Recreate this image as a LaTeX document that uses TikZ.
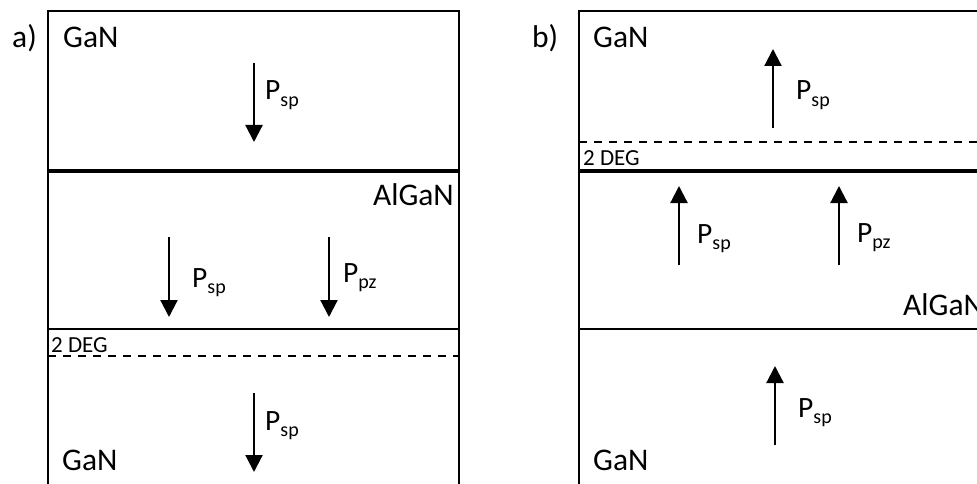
\documentclass[tikz,border=0pt]{standalone}
\usepackage{fontspec}
\setmainfont{Carlito}
\usetikzlibrary{arrows.meta}
\newcommand{\Pl}[1]{P\raisebox{-6pt}{\fontsize{20}{22}\selectfont #1}}
\begin{document}
\begin{tikzpicture}[x=1pt,y=-1pt,
  layer/.style={line width=2.2pt},
  iface/.style={line width=3.2pt},
  deg/.style={line width=2.2pt,dash pattern=on 8pt off 7pt},
  parrow/.style={line width=2.2pt,-{Triangle[length=17pt,width=17pt]}},
  big/.style={inner sep=0pt,font=\fontsize{31.5}{36}\selectfont},
  lbl/.style={inner sep=0pt,anchor=base west,font=\fontsize{29.5}{34}\selectfont},
  small/.style={inner sep=0pt,anchor=base west,font=\fontsize{23}{26}\selectfont}]
\useasboundingbox (0,0) rectangle (977,484);
\clip (0,0) rectangle (977,484);
% ---------- panel a
\draw[layer] (48,500) -- (48,11) -- (459,11) -- (459,500);
\draw[iface] (48,171) -- (459,171);
\draw[layer] (48,329) -- (459,329);
\draw[deg] (48,356) -- (459,356);
\node[big,anchor=base west] (la) at (12,48) {a)};
\node[big,anchor=base west] (ga1) at (63,48) {GaN};
\node[big,anchor=base east] (aa) at (454,205) {AlGaN};
\node[big,anchor=base west] (ga2) at (62,470) {GaN};
\node[small] (da) at (51,352) {2 DEG};
\coordinate (a1s) at (254,63); \coordinate (a1e) at (254,142);
\coordinate (a2s) at (169,237); \coordinate (a2e) at (169,317);
\coordinate (a3s) at (329,237); \coordinate (a3e) at (329,317);
\coordinate (a4s) at (254,393); \coordinate (a4e) at (254,472);
\draw[parrow] (a1s) -- (a1e);
\draw[parrow] (a2s) -- (a2e);
\draw[parrow] (a3s) -- (a3e);
\draw[parrow] (a4s) -- (a4e);
\node[lbl] (pa1) at (265,100) {\Pl{sp}};
\node[lbl] (pa2) at (192,287) {\Pl{sp}};
\node[lbl] (pa3) at (343,282) {\Pl{pz}};
\node[lbl] (pa4) at (265,430) {\Pl{sp}};
% ---------- panel b
\draw[layer] (579,500) -- (579,11) -- (1000,11);
\draw[deg] (579,142) -- (1000,142);
\draw[iface] (579,171) -- (1000,171);
\draw[layer] (579,329) -- (1000,329);
\node[big,anchor=base west] (lb) at (532,48) {b)};
\node[big,anchor=base west] (gb1) at (593,48) {GaN};
\node[big,anchor=base west] (ab) at (903,315) {AlGaN};
\node[big,anchor=base west] (gb2) at (593,470) {GaN};
\node[small] (db) at (583,165) {2 DEG};
\coordinate (b1s) at (773,128); \coordinate (b1e) at (773,49);
\coordinate (b2s) at (679,265); \coordinate (b2e) at (679,186);
\coordinate (b3s) at (839,265); \coordinate (b3e) at (839,186);
\coordinate (b4s) at (775,445); \coordinate (b4e) at (775,366);
\draw[parrow] (b1s) -- (b1e);
\draw[parrow] (b2s) -- (b2e);
\draw[parrow] (b3s) -- (b3e);
\draw[parrow] (b4s) -- (b4e);
\node[lbl] (pb1) at (796,100) {\Pl{sp}};
\node[lbl] (pb2) at (697,243) {\Pl{sp}};
\node[lbl] (pb3) at (857,242) {\Pl{pz}};
\node[lbl] (pb4) at (798,417) {\Pl{sp}};
\end{tikzpicture}
\end{document}
